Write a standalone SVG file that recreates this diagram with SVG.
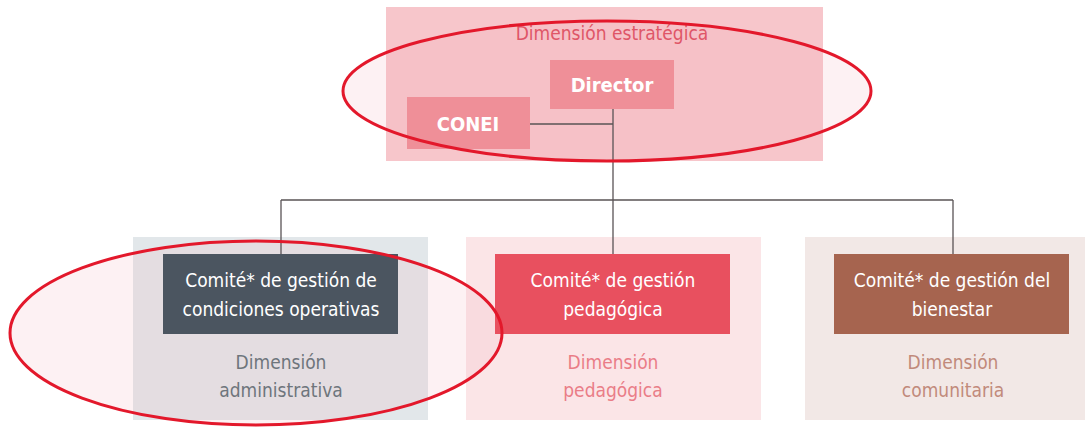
<svg xmlns="http://www.w3.org/2000/svg" width="1085" height="428" viewBox="0 0 1085 428">
<style>
text{font-family:"DejaVu Sans Condensed","Liberation Sans Narrow","Roboto",sans-serif;text-anchor:middle;font-size:19px}
.w{fill:#ffffff}
.b{fill:#ffffff;font-size:20px;font-weight:bold}
.conn{stroke:#5a5456;stroke-width:1.3;fill:none}
.hlf{fill:#f3a9b4;fill-opacity:0.16;stroke:none}
.hls{fill:none;stroke:#e3182b;stroke-width:3}
</style>
<rect width="1085" height="428" fill="#ffffff"/>
<g id="panel-estrategica">
<rect x="386" y="7" width="437" height="154" fill="#f7c6cb"/>
</g>
<g id="panel-administrativa">
<rect x="133" y="237" width="295" height="183" fill="#e2e7ea"/>
</g>
<g id="panel-pedagogica">
<rect x="466" y="237" width="295" height="183" fill="#fbe5e7"/>
</g>
<g id="panel-comunitaria">
<rect x="805" y="237" width="280" height="183" fill="#f2e8e6"/>
</g>
<g id="highlight-fill">
<ellipse class="hlf" cx="607" cy="91" rx="264" ry="70"/>
<ellipse class="hlf" cx="256" cy="333" rx="246" ry="92"/>
</g>
<g id="panel-labels">
<text x="612" y="40" style="fill:#df5667">Dimensión estratégica</text>
<text x="281" y="369" style="fill:#6e757c">Dimensión</text>
<text x="281" y="397" style="fill:#6e757c">administrativa</text>
<text x="613" y="369" style="fill:#ea7d87">Dimensión</text>
<text x="613" y="397" style="fill:#ea7d87">pedagógica</text>
<text x="953" y="369" style="fill:#c18a7b">Dimensión</text>
<text x="953" y="397" style="fill:#c18a7b">comunitaria</text>
</g>
<g id="connectors">
<path class="conn" d="M530 124H613M613 109V200M281 200H953M281 200V255M613 200V255M953 200V255"/>
</g>
<g id="director">
<rect x="550" y="60" width="124" height="49" fill="#ef8f98"/>
<text class="b" x="612" y="92">Director</text>
</g>
<g id="conei">
<rect x="407" y="97" width="123" height="52" fill="#ef8f98"/>
<text class="b" x="468" y="131">CONEI</text>
</g>
<g id="comite-operativas">
<rect x="163" y="254" width="235" height="80" fill="#4b5560"/>
<text class="w" x="281" y="287">Comité* de gestión de</text>
<text class="w" x="281" y="316">condiciones operativas</text>
</g>
<g id="comite-pedagogica">
<rect x="495" y="254" width="235" height="80" fill="#e8505f"/>
<text class="w" x="613" y="287">Comité* de gestión</text>
<text class="w" x="613" y="316">pedagógica</text>
</g>
<g id="comite-bienestar">
<rect x="834" y="254" width="235" height="80" fill="#a6644f"/>
<text class="w" x="952" y="287">Comité* de gestión del</text>
<text class="w" x="952" y="316">bienestar</text>
</g>
<g id="highlights">
<ellipse class="hls" cx="607" cy="91" rx="264" ry="70"/>
<ellipse class="hls" cx="256" cy="333" rx="246" ry="92"/>
</g>
</svg>
